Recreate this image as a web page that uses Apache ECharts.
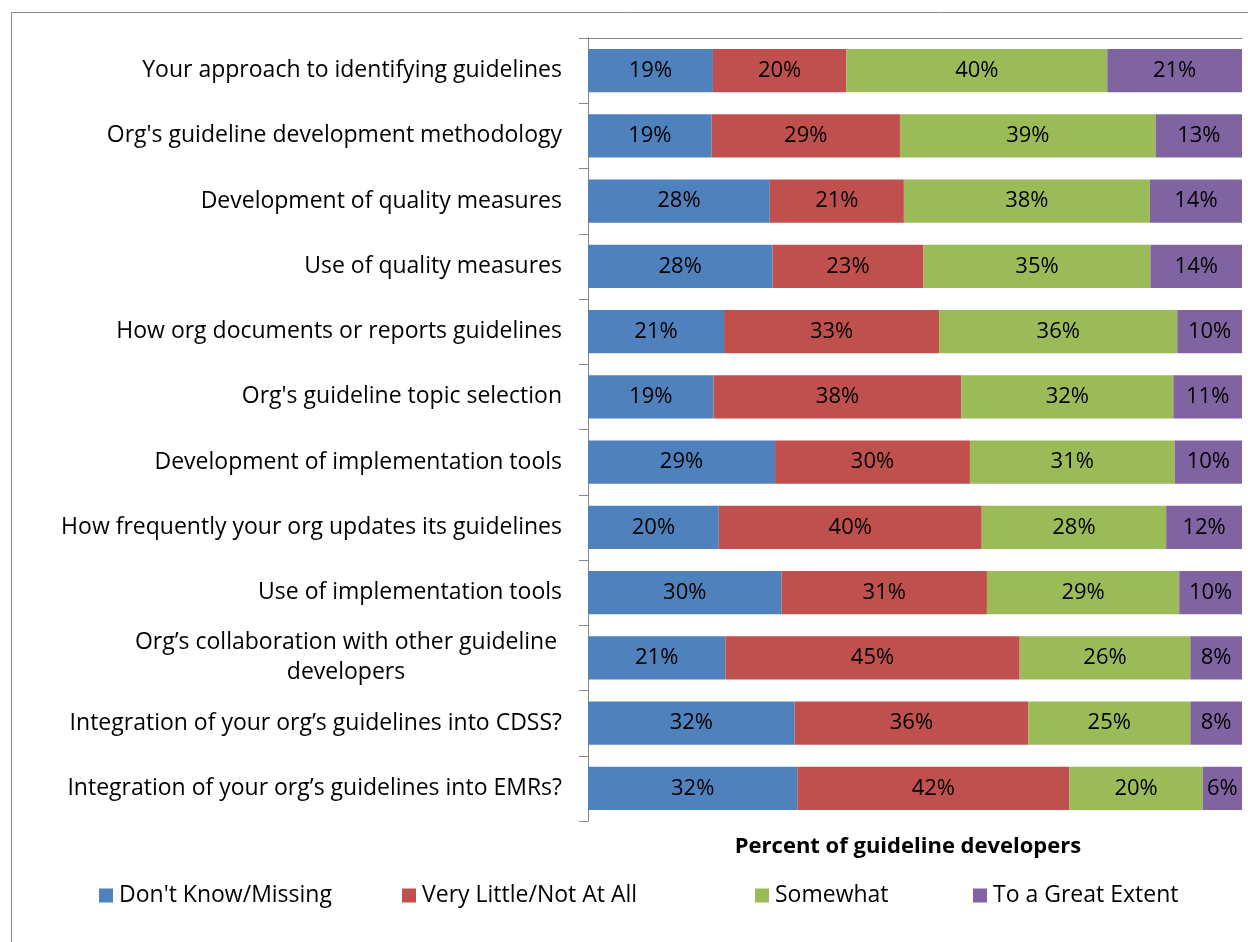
<!DOCTYPE html>
<html>
<head>
<meta charset="utf-8">
<title>Guideline developers</title>
<script src="https://cdn.jsdelivr.net/npm/echarts@6/dist/echarts.min.js"></script>
<style>
  html, body { margin: 0; padding: 0; background: #fff; }
  #chart { width: 1248px; height: 942px; }
</style>
</head>
<body>
<div id="chart"></div>
<script>
// categories, top to bottom
var categories = [
  "Your approach to identifying guidelines",
  "Org's guideline development methodology",
  "Development of quality measures",
  "Use of quality measures",
  "How org documents or reports guidelines",
  "Org's guideline topic selection",
  "Development of implementation tools",
  "How frequently your org updates its guidelines",
  "Use of implementation tools",
  "Org’s collaboration with other guideline\ndevelopers",
  "Integration of your org’s guidelines into CDSS?",
  "Integration of your org’s guidelines into EMRs?"
];

var seriesNames = ["Don't Know/Missing", "Very Little/Not At All", "Somewhat", "To a Great Extent"];

// percent of guideline developers
var dontKnow   = [19.1, 18.9, 27.8, 28.2, 20.8, 19.2, 28.6, 20.0, 29.6, 21.0, 31.6, 32.0];
var veryLittle = [20.4, 28.8, 20.5, 23.1, 32.9, 37.9, 29.8, 40.2, 31.4, 45.0, 35.7, 41.6];
var somewhat   = [39.9, 39.1, 37.6, 34.7, 36.4, 32.4, 31.3, 28.2, 29.4, 26.1, 24.8, 20.4];
var greatExtent= [20.6, 13.2, 14.1, 14.0,  9.9, 10.5, 10.3, 11.6,  9.6,  7.9,  7.9,  6.0];

var colors = ["#4F81BD", "#C0504D", "#9BBB59", "#8064A2"];
var FONT = "Open Sans";

var chart = echarts.init(document.getElementById("chart"));

function makeSeries(name, data, color) {
  return {
    name: name,
    type: "bar",
    stack: "total",
    barCategoryGap: "33.5%",
    data: data,
    itemStyle: { color: color },
    label: {
      show: true,
      position: "inside",
      color: "#000",
      fontFamily: FONT,
      fontSize: 22,
      formatter: function (p) { return Math.round(p.value) + "%"; }
    },
    emphasis: { disabled: true }
  };
}

// one legend per item so the spacing matches the original
var legendLefts = [94, 397, 750, 968];
var legends = seriesNames.map(function (n, i) {
  return {
    data: [n],
    left: legendLefts[i],
    top: 879,
    icon: "rect",
    itemWidth: 14,
    itemHeight: 14,
    itemGap: 0,
    selectedMode: false,
    textStyle: { fontFamily: FONT, fontSize: 23, color: "#000", padding: [0, 0, 0, 1] }
  };
});

chart.setOption({
  animation: false,
  color: colors,
  textStyle: { fontFamily: FONT },
  grid: { left: 588, right: 6, top: 38, bottom: 121 },
  title: {
    text: "Percent of guideline developers",
    left: 903,
    top: 831,
    textAlign: "center",
    textStyle: { fontFamily: FONT, fontSize: 22, fontWeight: "bold", color: "#000" }
  },
  legend: legends,
  xAxis: {
    type: "value",
    position: "top",
    min: 0,
    max: 100,
    axisLine: { show: true, lineStyle: { color: "#868686", width: 1 } },
    axisTick: { show: false },
    axisLabel: { show: false },
    splitLine: { show: false }
  },
  yAxis: {
    type: "category",
    inverse: true,
    data: categories,
    axisLine: { show: true, lineStyle: { color: "#868686", width: 1 } },
    axisTick: { show: true, length: 9, lineStyle: { color: "#868686" } },
    axisLabel: {
      margin: 26,
      color: "#000",
      fontFamily: FONT,
      fontSize: 23,
      lineHeight: 30,
      formatter: function (v) {
        if (v.indexOf("\n") < 0) return v;
        return v.split("\n").map(function (s) { return "{c|" + s + "}"; }).join("\n");
      },
      rich: {
        c: { width: 432, align: "center", fontFamily: FONT, fontSize: 23, color: "#000", lineHeight: 30 }
      }
    }
  },
  graphic: [{
    type: "rect",
    shape: { x: 11.5, y: 12.5, width: 1400, height: 1100 },
    style: { fill: null, stroke: "#868686", lineWidth: 1 },
    silent: true
  }],
  series: [
    makeSeries(seriesNames[0], dontKnow, colors[0]),
    makeSeries(seriesNames[1], veryLittle, colors[1]),
    makeSeries(seriesNames[2], somewhat, colors[2]),
    makeSeries(seriesNames[3], greatExtent, colors[3])
  ]
});
</script>
</body>
</html>
